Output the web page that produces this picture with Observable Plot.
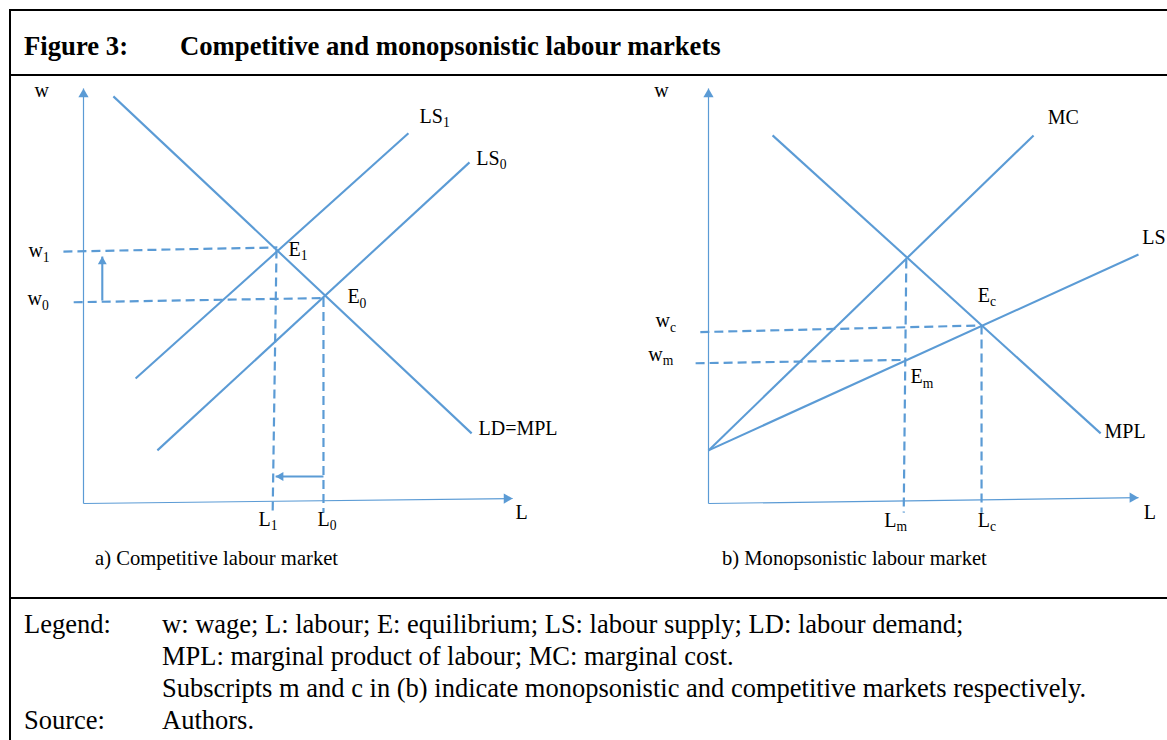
<!DOCTYPE html>
<html><head><meta charset="utf-8">
<script src="https://cdn.jsdelivr.net/npm/d3@7"></script>
<script src="https://cdn.jsdelivr.net/npm/@observablehq/plot@0.6"></script>
<style>
html,body{margin:0;padding:0;background:#fff;overflow:hidden;width:1167px;height:740px;}
body{position:relative;font-family:"Liberation Serif","Times New Roman",serif;color:#000;}
.rule{position:absolute;background:#000;z-index:2;}
.t{position:absolute;white-space:pre;}
.title{font-size:26.7px;line-height:26px;font-weight:bold;top:33px;}
.cap{font-size:20.6px;line-height:20px;top:548px;}
.leg{font-size:26.5px;line-height:32px;}
#pa,#pb{position:absolute;top:76px;height:522px;}
#pa{left:10px;width:580px;}
#pb{left:590px;width:577px;}
</style></head><body>
<div class="rule" style="left:9px;top:9px;width:1200px;height:2px"></div>
<div class="rule" style="left:9px;top:9px;width:2px;height:740px"></div>
<div class="rule" style="left:9px;top:74px;width:1200px;height:2px"></div>
<div class="rule" style="left:9px;top:597px;width:1200px;height:2px"></div>
<div class="t title" id="fig" style="left:24px"></div>
<div class="t title" id="ttl" style="left:180px"></div>
<div id="pa"></div>
<div id="pb"></div>
<div class="t cap" id="capA" style="left:95px"></div>
<div class="t cap" id="capB" style="left:722px"></div>
<div class="t leg" id="legHead" style="left:24px;top:608px"></div>
<div class="t leg" id="legBody" style="left:162px;top:608px"></div>
<script>
// ---------- text ----------
const figureNo = "Figure 3:";
const figureTitle = "Competitive and monopsonistic labour markets";
const captionA = "a) Competitive labour market";
const captionB = "b) Monopsonistic labour market";
const legendHeads = ["Legend:", "", "", "Source:"];
const legendLines = [
  "w: wage; L: labour; E: equilibrium; LS: labour supply; LD: labour demand;",
  "MPL: marginal product of labour; MC: marginal cost.",
  "Subscripts m and c in (b) indicate monopsonistic and competitive markets respectively.",
  "Authors."
];

// ---------- panel a: competitive market (L = labour, w = wage, 0-100 units) ----------
const aCurves = [
  {id: "LD=MPL", L1: 7.0, w1: 98.1, L2: 90.9, w2: 16.9},
  {id: "LS1", L1: 12.2, w1: 30.1, L2: 76.1, w2: 89.2},
  {id: "LS0", L1: 17.3, w1: 12.8, L2: 90.4, w2: 82.2}
];
const aGuides = [
  {id: "w1", L1: -4.7, w1: 60.7, L2: 45.4, w2: 61.7},
  {id: "w0", L1: -2.3, w1: 48.5, L2: 56.2, w2: 49.5},
  {id: "L1", L1: 45.2, w1: 61.2, L2: 44.3, w2: -2.2},
  {id: "L0", L1: 56.2, w1: 49.5, L2: 56.2, w2: -2.2}
];
const aShifts = [
  {id: "wage up", L1: 4.4, w1: 48.9, L2: 4.4, w2: 59.5, dir: "up"},
  {id: "labour left", L1: 56.2, w1: 6.5, L2: 45.0, w2: 6.5, dir: "left"}
];
const aAxes = [
  {id: "w", L1: 0, w1: 0, L2: 0, w2: 100, dir: "up"},
  {id: "L", L1: 0, w1: 0, L2: 100.5, w2: 1.2, dir: "right"}
];
const aLabels = [
  {t: "w", L: -11.5, w: 99.6},
  {t: "LS_1", L: 78.7, w: 93.3},
  {t: "LS_0", L: 92.0, w: 83.1},
  {t: "E_1", L: 48.0, w: 61.3},
  {t: "E_0", L: 61.8, w: 49.8},
  {t: "w_1", L: -12.9, w: 60.9},
  {t: "w_0", L: -13.1, w: 49.3},
  {t: "L_1", L: 41.0, w: -3.9},
  {t: "L_0", L: 54.8, w: -3.9},
  {t: "L", L: 101.2, w: -2.3},
  {t: "LD=MPL", L: 92.5, w: 18.1}
];

// ---------- panel b: monopsonistic market ----------
const bCurves = [
  {id: "MPL", L1: 14.9, w1: 88.7, L2: 91.2, w2: 16.9},
  {id: "MC", L1: 0, w1: 12.8, L2: 75.6, w2: 88.7},
  {id: "LS", L1: 0, w1: 12.8, L2: 100, w2: 60.0}
];
const bGuides = [
  {id: "wc", L1: -1.9, w1: 41.3, L2: 63.5, w2: 42.9},
  {id: "wm", L1: -3.0, w1: 33.8, L2: 45.8, w2: 34.6},
  {id: "Lm", L1: 46.0, w1: 58.8, L2: 45.4, w2: -2.2},
  {id: "Lc", L1: 63.5, w1: 42.9, L2: 63.5, w2: -2.2}
];
const bShifts = [];
const bAxes = [
  {id: "w", L1: 0, w1: 0, L2: 0, w2: 100, dir: "up"},
  {id: "L", L1: 0, w1: 0, L2: 100, w2: 1.4, dir: "right"}
];
const bLabels = [
  {t: "w", L: -12.6, w: 99.5},
  {t: "w_c", L: -12.3, w: 44.0},
  {t: "w_m", L: -14.0, w: 36.0},
  {t: "E_c", L: 62.6, w: 50.1},
  {t: "E_m", L: 47.0, w: 30.5},
  {t: "MC", L: 78.9, w: 93.0},
  {t: "LS", L: 100.9, w: 64.1},
  {t: "MPL", L: 92.1, w: 17.4},
  {t: "L_m", L: 40.9, w: -4.1},
  {t: "L_c", L: 62.6, w: -4.1},
  {t: "L", L: 101.2, w: -2.2}
];

// ---------- rendering ----------
const blue = "#5B9BD5";
const seg = {x1: "L1", y1: "w1", x2: "L2", y2: "w2"};
const rot = {up: 0, right: 90, left: -90};

function heads(items, r) {
  const off = 1.555 * r;
  return items.map(d => Plot.dot([d], {
    x: "L2", y: "w2", symbol: "triangle", r, rotate: rot[d.dir],
    fill: blue, stroke: "none",
    dx: d.dir === "right" ? -off : d.dir === "left" ? off : 0,
    dy: d.dir === "up" ? off : 0
  }));
}

function subscripts(svg) {
  svg.querySelectorAll("text").forEach(el => {
    const s = el.textContent;
    if (!s.includes("_") || el.querySelector("tspan")) return;
    const [main, sub] = s.split("_");
    el.textContent = main;
    const ts = document.createElementNS("http://www.w3.org/2000/svg", "tspan");
    ts.setAttribute("font-size", "68%");
    ts.setAttribute("dy", "0.32em");
    ts.textContent = sub;
    el.appendChild(ts);
  });
  return svg;
}

function panel({curves, guides, shifts, axes, labels, width, marginLeft, marginRight}) {
  return subscripts(Plot.plot({
    width, height: 522, marginLeft, marginRight, marginTop: 12, marginBottom: 95,
    x: {domain: [0, 100], axis: null},
    y: {domain: [0, 100], axis: null},
    style: {background: "transparent", overflow: "visible", fontFamily: "Liberation Serif, Times New Roman, serif"},
    marks: [
      Plot.link(axes, {...seg, stroke: blue, strokeWidth: 1.2}),
      Plot.link(guides, {...seg, stroke: blue, strokeWidth: 2.2, strokeDasharray: "9,5"}),
      Plot.link(curves, {...seg, stroke: blue, strokeWidth: 2.1}),
      Plot.link(shifts, {...seg, stroke: blue, strokeWidth: 2.1}),
      ...heads(axes, 3.8),
      ...heads(shifts, 3.3),
      Plot.text(labels, {x: "L", y: "w", text: "t", textAnchor: "start", fontSize: 20, fill: "#000"})
    ]
  }));
}

document.getElementById("pa").appendChild(panel({
  curves: aCurves, guides: aGuides, shifts: aShifts, axes: aAxes, labels: aLabels,
  width: 580, marginLeft: 73, marginRight: 80
}));
document.getElementById("pb").appendChild(panel({
  curves: bCurves, guides: bGuides, shifts: bShifts, axes: bAxes, labels: bLabels,
  width: 577, marginLeft: 118, marginRight: 29
}));

document.getElementById("fig").textContent = figureNo;
document.getElementById("ttl").textContent = figureTitle;
document.getElementById("capA").textContent = captionA;
document.getElementById("capB").textContent = captionB;
document.getElementById("legHead").textContent = legendHeads.join("\n");
document.getElementById("legBody").textContent = legendLines.join("\n");
</script>
</body></html>
